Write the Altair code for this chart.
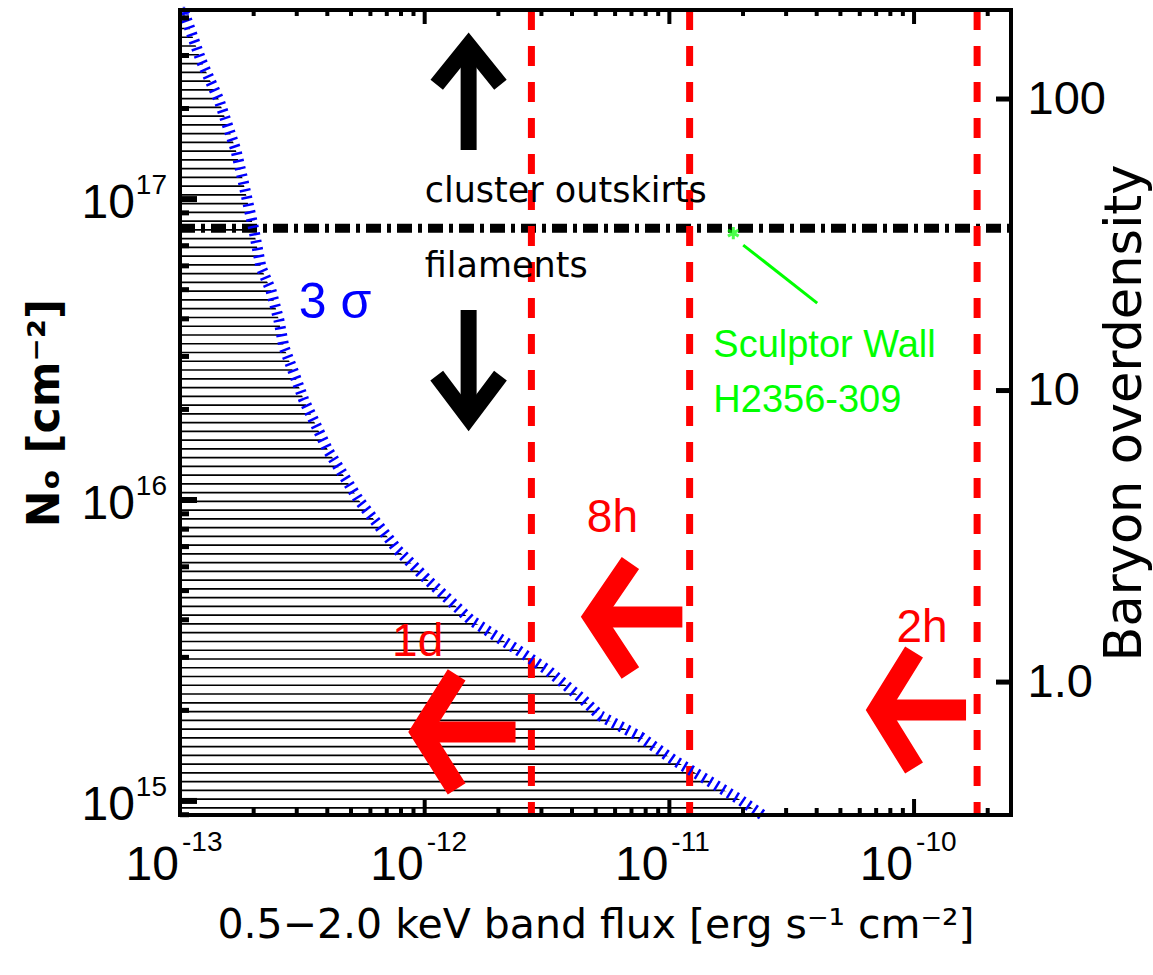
import math
import altair as alt
import pandas as pd

# ---------------- plot geometry (plot area only) ----------------
W, H = 831, 805

# ---------------- axes ----------------
X_DOMAIN = [1.0e-13, 2.49e-10]
Y_DOMAIN = [8.98e14, 4.25e17]
R_DOMAIN = [0.35, 202.0]

X_TICKS = [1e-13, 1e-12, 1e-11, 1e-10]
X_TICK_BASE = ["10", "10", "10", "10"]
X_TICK_EXP = ["-13", "-12", "-11", "-10"]
Y_TICKS = [1e15, 1e16, 1e17]
Y_TICK_BASE = ["10", "10", "10"]
Y_TICK_EXP = ["15", "16", "17"]
R_TICKS = [1.0, 10.0, 100.0]
R_TICK_LABELS = ["1.0", "10", "100"]

X_TITLE = "0.5−2.0 keV band flux [erg s⁻¹ cm⁻²]"
Y_TITLE = "Nₒ [cm⁻²]"
R_TITLE = "Baryon overdensity"

# ---------------- 3 sigma limit curve ----------------
CURVE_FLUX = [1.038e-13, 1.218e-13, 1.443e-13, 1.692e-13, 1.807e-13, 2.005e-13,
              2.141e-13, 2.352e-13, 2.536e-13, 2.658e-13, 2.920e-13, 3.207e-13,
              4.019e-13, 5.378e-13, 7.759e-13, 1.029e-12, 1.541e-12, 2.396e-12,
              3.177e-12, 4.457e-12, 5.229e-12, 7.614e-12, 1.038e-11, 1.429e-11,
              1.949e-11, 2.396e-11]
CURVE_N = [4.18e17, 2.896e17, 2.133e17, 1.455e17, 1.157e17, 7.888e16,
           5.944e16, 4.985e16, 3.963e16, 3.224e16, 2.642e16, 2.149e16,
           1.466e16, 1.0e16, 6.823e15, 5.423e15, 3.994e15, 3.176e15,
           2.724e15, 2.165e15, 1.916e15, 1.632e15, 1.369e15, 1.174e15,
           1.008e15, 8.986e14]

# cluster-outskirts / filaments boundary
BOUNDARY_N = [8.0e16]
# exposure limits (1d, 8h, 2h)
EXPOSURE_FLUX = [2.73e-12, 1.21e-11, 1.81e-10]

# Sculptor Wall marker
SW_FLUX = [1.825e-11]
SW_N = [7.71e16]
SW_LINE_FLUX = [2.004e-11, 4.02e-11]
SW_LINE_N = [7.035e16, 4.513e16]

# arrows (polylines in data units)
BLACK_ARROWS = [
    ([1.512e-12, 1.512e-12], [1.455e17, 3.126e17]),
    ([1.120e-12, 1.512e-12, 2.040e-12], [2.400e17, 3.248e17, 2.400e17]),
    ([1.512e-12, 1.512e-12], [4.277e16, 1.991e16]),
    ([1.120e-12, 1.512e-12, 2.040e-12], [2.590e16, 1.873e16, 2.590e16]),
]
RED_ARROWS = [
    ([9.63e-13, 2.351e-12], [1.695e15, 1.695e15]),
    ([1.351e-12, 9.63e-13, 1.351e-12], [2.622e15, 1.695e15, 1.096e15]),
    ([4.896e-12, 1.130e-11], [4.087e15, 4.087e15]),
    ([6.93e-12, 4.896e-12, 6.93e-12], [6.176e15, 4.087e15, 2.663e15]),
    ([7.13e-11, 1.631e-10], [2.005e15, 2.005e15]),
    ([1.0e-10, 7.13e-11, 1.0e-10], [3.126e15, 2.005e15, 1.287e15]),
]

# text annotations
BLACK_TEXT = ["cluster outskirts", "filaments"]
BLACK_TEXT_FLUX = [1.0e-12, 1.0e-12]
BLACK_TEXT_N = [9.77e16, 5.51e16]
SIGMA_TEXT = ["3 σ"]
SIGMA_FLUX = [3.06e-13]
SIGMA_N = [4.02e16]
EXPO_TEXT = ["1d", "8h", "2h"]
EXPO_TEXT_FLUX = [9.36e-13, 5.85e-12, 1.078e-10]
EXPO_TEXT_N = [3.375e15, 8.71e15, 3.756e15]
GREEN_TEXT = ["Sculptor Wall", "H2356-309"]
GREEN_TEXT_FLUX = [1.512e-11, 1.512e-11]
GREEN_TEXT_N = [2.987e16, 1.961e16]

RED = "#ff0000"
BLUE = "#0000ff"
GREEN = "#00ff00"
NUMFONT = "Liberation Sans, sans-serif"
TXTFONT = "DejaVu Sans, sans-serif"

# log-axis minor tick positions
X_MINOR = [m * 10.0 ** e for e in (-13, -12, -11, -10) for m in range(2, 10)
           if X_DOMAIN[0] <= m * 10.0 ** e <= X_DOMAIN[1]]
Y_MINOR = [m * 10.0 ** e for e in (14, 15, 16, 17) for m in range(2, 10)
           if Y_DOMAIN[0] <= m * 10.0 ** e <= Y_DOMAIN[1]]

xs = alt.Scale(type="log", domain=X_DOMAIN, nice=False)
ys = alt.Scale(type="log", domain=Y_DOMAIN, nice=False)
rs = alt.Scale(type="log", domain=R_DOMAIN, nice=False)


def label_expr(ticks, labels):
    parts = [f"abs(log(datum.value)/LN10 - ({math.log10(t):.4f})) < 0.01 ? '{l}' : "
             for t, l in zip(ticks, labels)]
    return "".join(parts) + "''"


x_axis = alt.Axis(values=X_TICKS, labels=False, ticks=False, domain=False, grid=False,
                  title=X_TITLE, titleFont=TXTFONT, titleFontSize=41,
                  titleFontWeight="normal", titleColor="black", titlePadding=90)
y_axis = alt.Axis(values=Y_TICKS, labels=False, ticks=False, domain=False, grid=False,
                  title=Y_TITLE, titleFont=TXTFONT, titleFontSize=44,
                  titleFontWeight="bold", titleColor="black", titlePadding=113)
r_axis = alt.Axis(orient="right", values=R_TICKS,
                  labelExpr=label_expr(R_TICKS, R_TICK_LABELS),
                  ticks=False, domain=False, grid=False, labelFlush=False,
                  labelOverlap=False, labelFont=NUMFONT, labelFontSize=47,
                  labelColor="black", labelPadding=16, title=R_TITLE,
                  titleFont=TXTFONT, titleFontSize=51, titleFontWeight="normal",
                  titleColor="black", titleAngle=270, titlePadding=46)


def X(field="flux"):
    return alt.X(f"{field}:Q", scale=xs, axis=x_axis)


def Y(field="N"):
    return alt.Y(f"{field}:Q", scale=ys, axis=y_axis)


# ---------------- data frames ----------------
curve_df = pd.DataFrame({"flux": CURVE_FLUX, "N": CURVE_N,
                         "i": list(range(len(CURVE_N)))})


def poly_df(polys):
    rows = []
    for k, (fx, fn) in enumerate(polys):
        for j, (a, b) in enumerate(zip(fx, fn)):
            rows.append({"id": k, "ord": j, "flux": a, "N": b})
    return pd.DataFrame(rows)


# hatch lines (regular fill pattern, uniform in log N)
hatch = (alt.Chart(alt.sequence(14.977, 17.60, 0.0291, as_="k"))
         .transform_calculate(N="pow(10, datum.k)")
         .mark_rule(color="black", strokeWidth=1.7)
         .encode(y=Y(), x=alt.value(0), x2=alt.value(W)))

# white mask right of the limit curve (hatch only left of the curve)
mask = (alt.Chart(curve_df)
        .transform_calculate(xr=f"{X_DOMAIN[1]}")
        .mark_area(color="white", orient="horizontal", opacity=1, clip=True)
        .encode(y=Y(), x=X(), x2="xr:Q"))

dashdot = (alt.Chart(pd.DataFrame({"N": BOUNDARY_N}))
           .mark_rule(color="black", strokeWidth=9, strokeDash=[15, 6, 4, 6])
           .encode(y=Y(), x=alt.value(0), x2=alt.value(W)))

redlines = (alt.Chart(pd.DataFrame({"flux": EXPOSURE_FLUX}))
            .mark_rule(color=RED, strokeWidth=7, strokeDash=[20, 16])
            .encode(x=X(), y=alt.value(0), y2=alt.value(H)))

curve = (alt.Chart(curve_df)
         .mark_line(color=BLUE, strokeWidth=11, strokeDash=[2.5, 5], strokeCap="butt")
         .encode(x=X(), y=Y(), order="i:Q"))

STAR = "M0,-1L0,1M-0.87,-0.5L0.87,0.5M-0.87,0.5L0.87,-0.5"
blue_star = (alt.Chart(curve_df.head(1))
             .mark_point(shape=STAR, filled=False, stroke=BLUE, strokeWidth=2.5, size=120)
             .encode(x=X(), y=Y()))

black_arrows = (alt.Chart(poly_df(BLACK_ARROWS))
                .mark_line(color="black", strokeWidth=16, strokeCap="butt",
                           strokeJoin="miter", strokeMiterLimit=10)
                .encode(x=X(), y=Y(), detail="id:N", order="ord:Q"))
red_arrows = (alt.Chart(poly_df(RED_ARROWS))
              .mark_line(color=RED, strokeWidth=21, strokeCap="butt",
                         strokeJoin="miter", strokeMiterLimit=10)
              .encode(x=X(), y=Y(), detail="id:N", order="ord:Q"))

black_text = (alt.Chart(pd.DataFrame({"t": BLACK_TEXT, "flux": BLACK_TEXT_FLUX, "N": BLACK_TEXT_N}))
              .mark_text(align="left", baseline="alphabetic", font=TXTFONT,
                         fontSize=35, color="black")
              .encode(x=X(), y=Y(), text="t:N"))
sigma_text = (alt.Chart(pd.DataFrame({"t": SIGMA_TEXT, "flux": SIGMA_FLUX, "N": SIGMA_N}))
              .mark_text(align="left", baseline="alphabetic", font=NUMFONT,
                         fontSize=50, color=BLUE)
              .encode(x=X(), y=Y(), text="t:N"))
expo_text = (alt.Chart(pd.DataFrame({"t": EXPO_TEXT, "flux": EXPO_TEXT_FLUX, "N": EXPO_TEXT_N}))
             .mark_text(align="center", baseline="middle", font=NUMFONT,
                        fontSize=46, color=RED)
             .encode(x=X(), y=Y(), text="t:N"))
green_text = (alt.Chart(pd.DataFrame({"t": GREEN_TEXT, "flux": GREEN_TEXT_FLUX, "N": GREEN_TEXT_N}))
              .mark_text(align="left", baseline="alphabetic", font=NUMFONT,
                         fontSize=38, color=GREEN)
              .encode(x=X(), y=Y(), text="t:N"))
green_line = (alt.Chart(pd.DataFrame({"flux": SW_LINE_FLUX, "N": SW_LINE_N}))
              .mark_line(color=GREEN, strokeWidth=3)
              .encode(x=X(), y=Y()))
green_star = (alt.Chart(pd.DataFrame({"flux": SW_FLUX, "N": SW_N}))
              .mark_point(shape=STAR, filled=False, stroke=GREEN, strokeWidth=3, size=150)
              .encode(x=X(), y=Y()))

# tick labels "10" with raised exponent
xlab_df = pd.DataFrame({"flux": X_TICKS, "base": X_TICK_BASE, "exp": X_TICK_EXP})
ylab_df = pd.DataFrame({"N": Y_TICKS, "base": Y_TICK_BASE, "exp": Y_TICK_EXP})
xlab_base = (alt.Chart(xlab_df)
             .mark_text(align="right", baseline="alphabetic", font=NUMFONT,
                        fontSize=48, color="black", dx=-1)
             .encode(x=X(), y=alt.value(H + 65), text="base:N"))
xlab_exp = (alt.Chart(xlab_df)
            .mark_text(align="left", baseline="alphabetic", font=NUMFONT,
                       fontSize=28, color="black", dx=2)
            .encode(x=X(), y=alt.value(H + 36), text="exp:N"))
ylab_base = (alt.Chart(ylab_df)
             .mark_text(align="right", baseline="alphabetic", font=NUMFONT,
                        fontSize=48, color="black", dy=19)
             .encode(y=Y(), x=alt.value(-45), text="base:N"))
ylab_exp = (alt.Chart(ylab_df)
            .mark_text(align="right", baseline="alphabetic", font=NUMFONT,
                       fontSize=28, color="black", dy=-5)
            .encode(y=Y(), x=alt.value(-13), text="exp:N"))

# inward-pointing ticks
xmaj = pd.DataFrame({"flux": X_TICKS})
xmin = pd.DataFrame({"flux": X_MINOR})
ymaj = pd.DataFrame({"N": Y_TICKS})
ymin = pd.DataFrame({"N": Y_MINOR})

bot_maj = alt.Chart(xmaj).mark_rule(color="black", strokeWidth=4).encode(
    x=X(), y=alt.value(H), y2=alt.value(H - 16))
bot_min = alt.Chart(xmin).mark_rule(color="black", strokeWidth=4).encode(
    x=X(), y=alt.value(H), y2=alt.value(H - 7))
top_maj = alt.Chart(xmaj).mark_rule(color="black", strokeWidth=4).encode(
    x=X(), y=alt.value(0), y2=alt.value(14))
top_min = alt.Chart(xmin).mark_rule(color="black", strokeWidth=4).encode(
    x=X(), y=alt.value(0), y2=alt.value(6))
left_maj = alt.Chart(ymaj).mark_rule(color="black", strokeWidth=6).encode(
    y=Y(), x=alt.value(0), x2=alt.value(17))
left_min = alt.Chart(ymin).mark_rule(color="black", strokeWidth=5).encode(
    y=Y(), x=alt.value(0), x2=alt.value(9))

frame = (alt.Chart(pd.DataFrame({"a": [0]}))
         .mark_rect(filled=False, stroke="black", strokeWidth=4)
         .encode(x=alt.value(0), x2=alt.value(W), y=alt.value(0), y2=alt.value(H)))

left_layers = alt.layer(hatch, mask, dashdot, redlines, curve, blue_star,
                        black_arrows, red_arrows, black_text, sigma_text, expo_text,
                        green_text, green_line, green_star,
                        xlab_base, xlab_exp, ylab_base, ylab_exp,
                        bot_maj, bot_min, top_maj, top_min, left_maj, left_min, frame)

right_ticks = (alt.Chart(pd.DataFrame({"od": R_TICKS}))
               .mark_rule(color="black", strokeWidth=5)
               .encode(y=alt.Y("od:Q", scale=rs, axis=r_axis),
                       x=alt.value(W), x2=alt.value(W - 15)))

chart = (alt.layer(left_layers, right_ticks)
         .resolve_scale(y="independent")
         .properties(width=W, height=H,
                     autosize=alt.AutoSizeParams(type="none"),
                     padding={"left": 180, "top": 10, "right": 142, "bottom": 160})
         .configure_view(stroke=None)
         .configure(background="white"))

chart.save("out.html", embed_options={"renderer": "svg", "actions": False})
